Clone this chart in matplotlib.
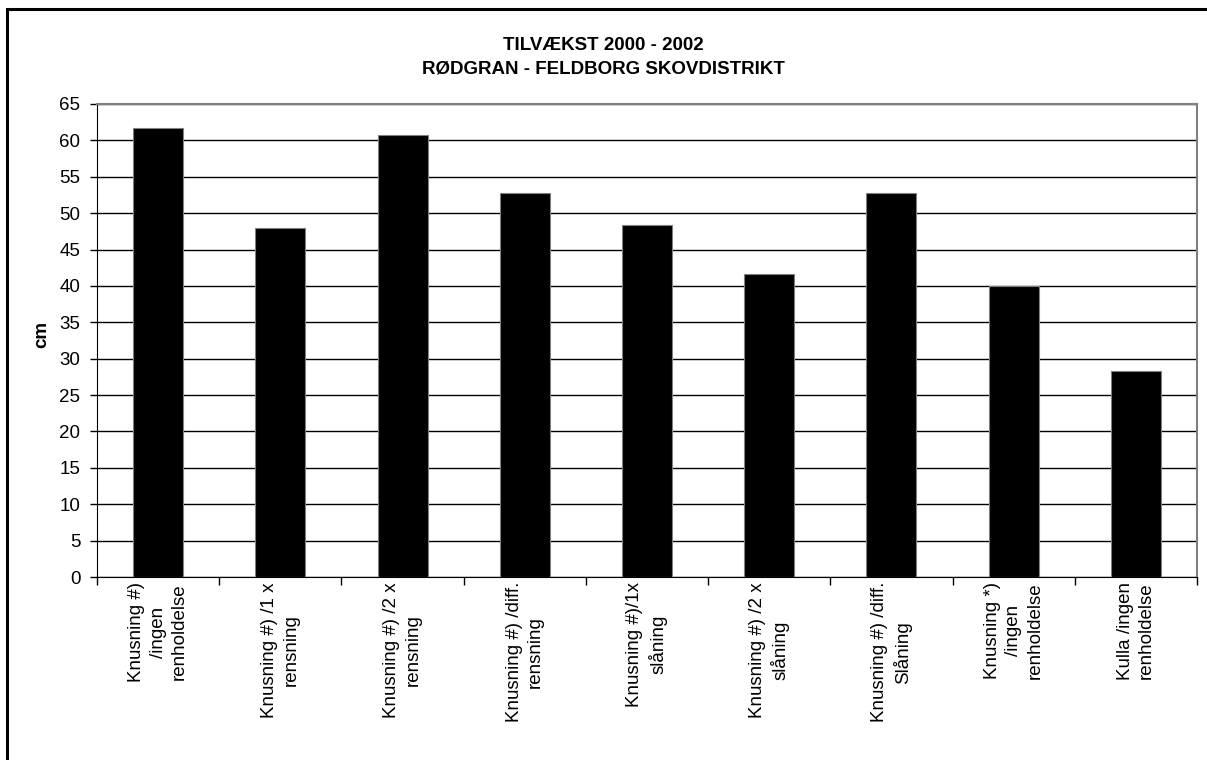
"""Tilvækst 2000 - 2002, rødgran, Feldborg skovdistrikt — bar chart."""

import matplotlib
matplotlib.use("Agg")
import matplotlib.pyplot as plt
from matplotlib.patches import Rectangle
import numpy as np

categories = [
    "Knusning #)\n/ingen\nrenholdelse",
    "Knusning #) /1 x\nrensning",
    "Knusning #) /2 x\nrensning",
    "Knusning #) /diff.\nrensning",
    "Knusning #)/1x\nslåning",
    "Knusning #) /2 x\nslåning",
    "Knusning #) /diff.\nSlåning",
    "Knusning *)\n/ingen\nrenholdelse",
    "Kulla /ingen\nrenholdelse",
]
growth_cm = [61.7, 47.9, 60.8, 52.8, 48.4, 41.7, 52.8, 40.0, 28.3]
y_ticks = list(range(0, 66, 5))

plt.rcParams["font.family"] = ["Liberation Sans", "DejaVu Sans"]
FS = 13.5

W, H = 1207, 760
fig = plt.figure(figsize=(W / 100, H / 100), dpi=100)
ax = fig.add_axes([97 / W, 1 - 577 / H, (1197 - 97) / W, (577 - 104) / H])

x = np.arange(len(categories))
ax.bar(x, growth_cm, width=0.41, color="black", edgecolor="#808080",
       linewidth=0.8, zorder=3)

ax.set_xlim(-0.5, len(categories) - 0.5)
ax.set_ylim(0, 65)
ax.set_yticks(y_ticks)
ax.set_yticklabels([str(t) for t in y_ticks], fontsize=FS)
ax.yaxis.grid(True, color="black", linewidth=1.0, zorder=0)
ax.set_axisbelow(True)

# ticks sit between categories, labels under each bar
ax.set_xticks(np.arange(-0.5, len(categories), 1.0))
ax.set_xticklabels([])
ax.tick_params(axis="x", direction="out", length=6, width=1, color="black")
ax.tick_params(axis="y", direction="out", length=5, width=1, color="black", pad=7)
for i, lab in enumerate(categories):
    ax.text(i, -0.7, lab, rotation=90, ha="center", va="top",
            multialignment="center", fontsize=FS, linespacing=1.35,
            clip_on=False)

for side in ("top", "right"):
    ax.spines[side].set_color("#808080")
    ax.spines[side].set_linewidth(1.5)
ax.spines["left"].set_color("black")
ax.spines["bottom"].set_color("black")

fig.text(42 / W, 1 - 335 / H, "cm", rotation=90, ha="center", va="center",
         fontsize=FS, fontweight="bold")

fig.text(0.5, 1 - 46 / H, "TILVÆKST 2000 - 2002", ha="center", va="center",
         fontsize=FS, fontweight="bold")
fig.text(0.5, 1 - 69 / H, "RØDGRAN - FELDBORG SKOVDISTRIKT", ha="center",
         va="center", fontsize=FS, fontweight="bold")

# outer frame, runs off the right and bottom edge like the source
fig.patches.append(Rectangle((7 / W, -0.1), 1.2, 1.1 - 9 / H, fill=False,
                             edgecolor="black", linewidth=2.2,
                             transform=fig.transFigure, figure=fig))

fig.savefig("out.png", dpi=100, facecolor="white")
